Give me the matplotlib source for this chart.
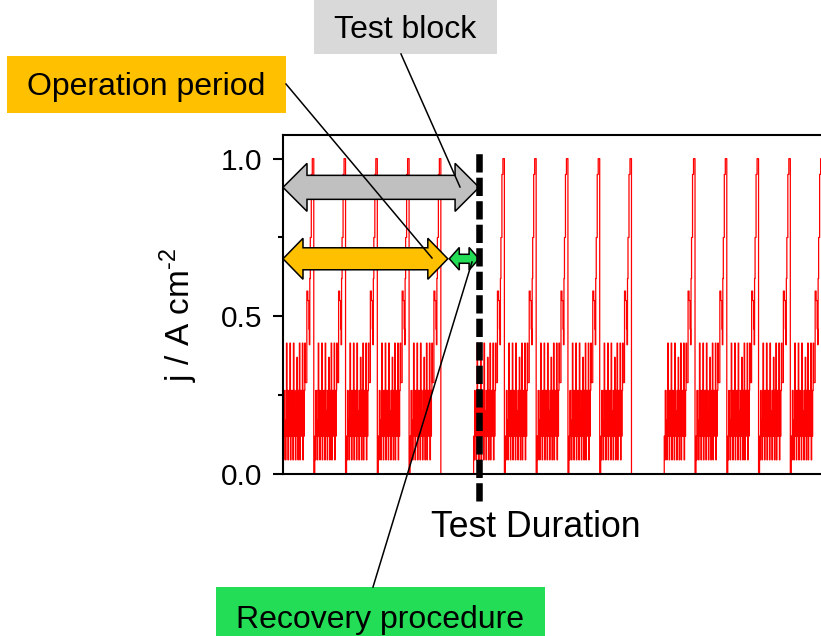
import matplotlib

matplotlib.use("Agg")
import matplotlib.pyplot as plt
from matplotlib.patches import Polygon, Rectangle
import numpy as np

plt.rcParams["font.family"] = "Liberation Sans"
plt.rcParams["mathtext.fontset"] = "custom"
plt.rcParams["mathtext.rm"] = "Liberation Sans"

# current density of one operation cycle (A cm-2), one value per half time step:
# dynamic load steps, ramp to the peak load, then switch-off
load_steps = [0.12, 0.045, 0.265, 0.12, 0.17, 0.045, 0.265, 0.415, 0.12, 0.265, 0.045, 0.22,
              0.265, 0.12, 0.415, 0.045, 0.265, 0.17, 0.12, 0.265, 0.045, 0.415, 0.265, 0.12,
              0.20, 0.045, 0.265, 0.12, 0.37, 0.265, 0.045, 0.265, 0.12, 0.415, 0.045, 0.265,
              0.17, 0.12, 0.265, 0.415, 0.045, 0.265, 0.12, 0.265, 0.415, 0.29]
ramp_steps = [0.29, 0.29, 0.58, 0.58, 0.55, 0.55, 0.46, 0.41,
              0.62, 0.75, 0.75, 0.95, 0.95, 1.0, 1.0, 1.0]
switch_off = [0.0, 0.0]
recovery = [0.0] * 64
cycles_per_block = 5
n_blocks = 3

# positions (time steps / current density) of the annotations
block_end_t = 395.0
operation_end_t = 332.0
test_block_j = 0.909
operation_j = 0.6825

FIG_W, FIG_H = 821, 636
AX_L, AX_B, AX_W, AX_H = 283, 162, 552, 339
XLIM = (0, 1112)
YLIM = (0, 1.075)
PX_X = AX_W / (XLIM[1] - XLIM[0])
PX_Y = AX_H / (YLIM[1] - YLIM[0])


def build_series():
    cycle = load_steps + ramp_steps + switch_off
    block = cycle * cycles_per_block + recovery
    j = np.array(block * n_blocks, dtype=float)
    t = np.arange(len(j), dtype=float)
    return t, j


def double_arrow(ax, x0, x1, y, shaft, head, head_len, color):
    # shaft / head half-heights and head length are given in pixels
    hl = head_len / PX_X
    hs = shaft / PX_Y
    hh = head / PX_Y
    pts = [
        (x0, y), (x0 + hl, y + hh), (x0 + hl, y + hs), (x1 - hl, y + hs),
        (x1 - hl, y + hh), (x1, y), (x1 - hl, y - hh), (x1 - hl, y - hs),
        (x0 + hl, y - hs), (x0 + hl, y - hh),
    ]
    ax.add_patch(Polygon(pts, closed=True, facecolor=color, edgecolor="black",
                         linewidth=1.1, joinstyle="miter", zorder=4, clip_on=False))


def callout(ov, x0, y0, x1, y1, text, color, text_x, baseline):
    ov.add_patch(Rectangle((x0, y0), x1 - x0, y1 - y0, facecolor=color, edgecolor="none"))
    ov.text(text_x, baseline, text, fontsize=23, ha="center", va="baseline", color="black")


def main():
    t, j = build_series()

    fig = plt.figure(figsize=(FIG_W / 100, FIG_H / 100), dpi=100)
    ax = fig.add_axes([AX_L / FIG_W, AX_B / FIG_H, AX_W / FIG_W, AX_H / FIG_H])

    ax.plot(t, j, drawstyle="steps-post", color="#FF0000", linewidth=0.9, zorder=2)
    ax.set_xlim(*XLIM)
    ax.set_ylim(*YLIM)

    ax.set_yticks([0.0, 0.5, 1.0])
    ax.set_yticks([0.25, 0.75], minor=True)
    ax.set_yticklabels(["0.0", "0.5", "1.0"])
    ax.set_xticks([])
    ax.tick_params(axis="y", which="major", direction="out", length=7.2, width=1.5,
                   labelsize=21.5, pad=8.0)
    ax.tick_params(axis="y", which="minor", direction="out", length=3.6, width=1.5)
    for side in ("left", "top", "bottom", "right"):
        ax.spines[side].set_linewidth(1.5)
        ax.spines[side].set_zorder(3)

    ax.set_xlabel("Test Duration", fontsize=25.7)
    ax.xaxis.set_label_coords((536 - AX_L) / AX_W, -63 / AX_H)
    ax.xaxis.label.set_va("baseline")
    ax.set_ylabel(r"j / A cm$^{\text{-2}}$", fontsize=24)
    ax.yaxis.set_label_coords((200 - AX_L) / AX_W, (474 - 315) / AX_H)

    # end of the first test block
    ax.plot([block_end_t, block_end_t], [-0.085, 1.02], color="black", linewidth=4.7,
            linestyle=(0, (2.8, 0.8)), clip_on=False, zorder=5)

    double_arrow(ax, 0, block_end_t, test_block_j, 12, 24, 24, "#C0C0C0")
    double_arrow(ax, 0, operation_end_t, operation_j, 11, 20.5, 20, "#FFC000")
    double_arrow(ax, operation_end_t + 3, block_end_t, operation_j, 4.5, 11.3, 10, "#22DD55")

    # overlay in figure pixels for the callout boxes and leader lines
    ov = fig.add_axes([0, 0, 1, 1], zorder=5)
    ov.set_xlim(0, FIG_W)
    ov.set_ylim(FIG_H, 0)
    ov.axis("off")
    ov.patch.set_alpha(0)

    callout(ov, 314, 0, 497, 54, "Test block", "#D9D9D9", 405, 38)
    callout(ov, 7, 56, 286, 113, "Operation period", "#FFC000", 146, 95)
    callout(ov, 216, 587, 545, 636, "Recovery procedure", "#22DD55", 380, 628)

    ov.plot([401, 460], [54, 187], color="black", linewidth=1.1)
    ov.plot([286, 432], [84, 258], color="black", linewidth=1.1)
    ov.plot([373, 472], [587, 262], color="black", linewidth=1.1)

    fig.savefig("out.png", dpi=100)
    plt.close(fig)


if __name__ == "__main__":
    main()
